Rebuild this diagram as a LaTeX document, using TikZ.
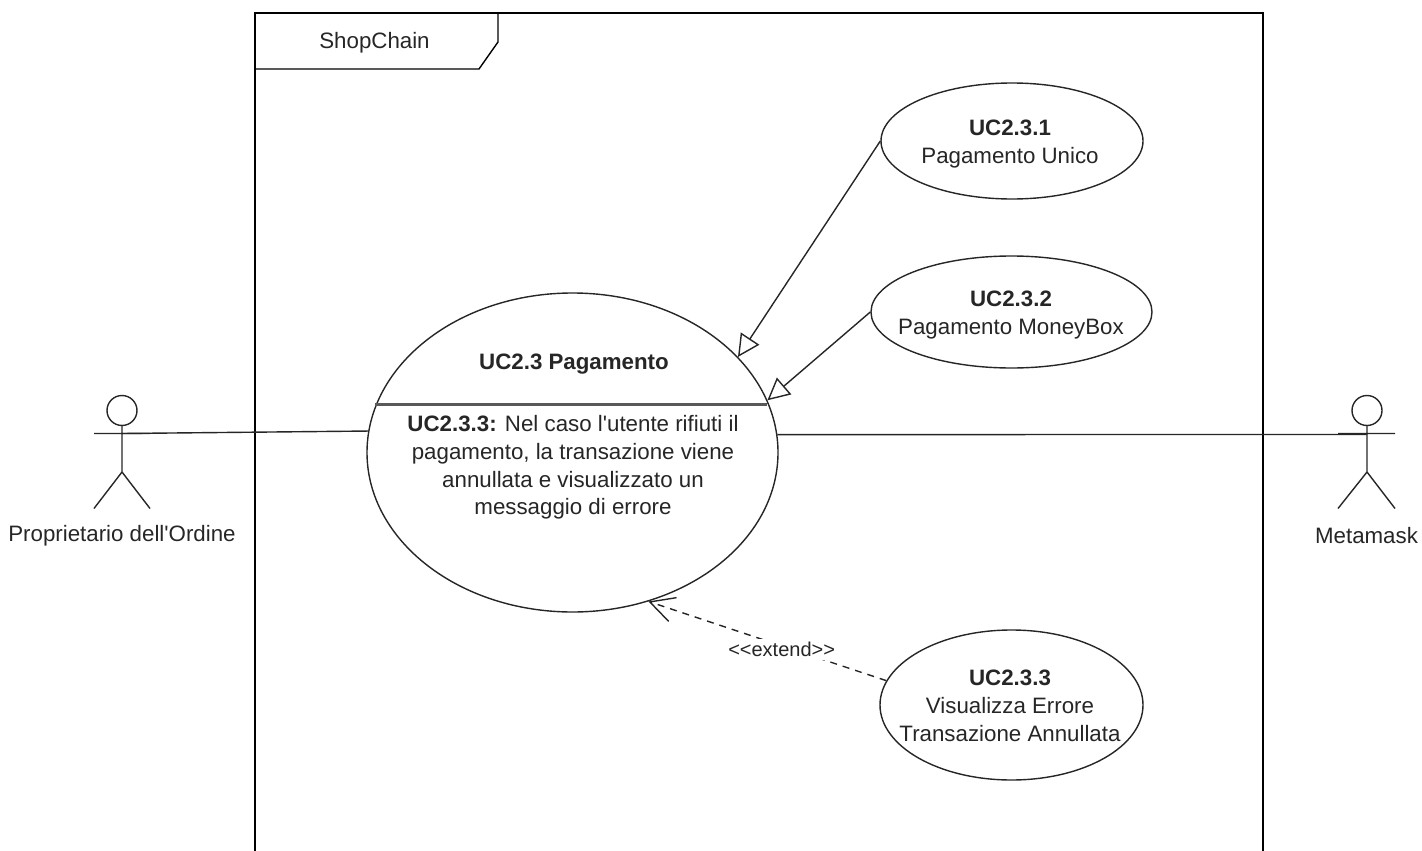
\documentclass[tikz,border=0pt]{standalone}
\usepackage{fontspec}
\usetikzlibrary{shapes.geometric,arrows.meta}
\newfontfamily\diagfont{Liberation Sans}
\tikzset{
  line/.style={draw=black!85,line width=1.4pt},
  uc/.style={ellipse,line,fill=white,inner sep=0pt},
  txt/.style={inner sep=0pt,align=center,text=black!85,font=\diagfont\fontsize{22.3}{27.8}\selectfont},
  gen/.style={line,-{Triangle[open,fill=white,length=22pt,width=22pt]}},
  ext/.style={line,dash pattern=on 7pt off 6pt,-{Straight Barb[length=24pt,width=25pt,line width=1.4pt]}},
  head/.style={circle,line,inner sep=0pt,minimum size=30pt},
}
\begin{document}
\begin{tikzpicture}[x=1pt,y=-1pt]
\useasboundingbox (0,0) rectangle (1422,851);
% frame
\coordinate (fa) at (255,851); \coordinate (fb) at (255,13); \coordinate (fc) at (1263,13); \coordinate (fd) at (1263,851);
\draw[line,draw=black] (fa) -- (fb) -- (fc) -- (fd);
\coordinate (ta) at (498,13); \coordinate (tb) at (498,42); \coordinate (tc) at (479,69); \coordinate (td) at (255,69);
\draw[line,draw=black] (ta) -- (tb) -- (tc) -- (td);
\node[txt] (frametitle) at (374.5,42.5) {ShopChain};
% use cases
\node[uc,minimum width=411pt,minimum height=319pt] (main) at (572.5,452.5) {};
\node[uc,minimum width=262pt,minimum height=116pt] (u1) at (1012,141) {};
\node[uc,minimum width=281pt,minimum height=112pt] (u2) at (1011.5,312) {};
\node[uc,minimum width=263pt,minimum height=150pt] (u3) at (1011.5,705) {};
\node[txt] (u1t) at (1010,144) {\textbf{UC2.3.1}\\Pagamento Unico};
\node[txt] (u2t) at (1011,315) {\textbf{UC2.3.2}\\Pagamento MoneyBox};
\node[txt] (u3t) at (1010,706) {\textbf{UC2.3.3}\\Visualizza Errore\\Transazione Annullata};
\node[txt] (maintitle) at (574,364) {\textbf{UC2.3 Pagamento}};
\node[txt] (mainbody) at (573,467.5) {\textbf{UC2.3.3:} Nel caso l'utente rifiuti il\\pagamento, la transazione viene\\annullata e visualizzato un\\messaggio di errore};
\coordinate (da) at (375,404.5); \coordinate (db) at (767,404.5);
\draw[draw=black!65,line width=2.2pt] (da) -- (db);
% actors
\node[head] (h1) at (122,410.5) {};
\coordinate (b1) at (122,472); \coordinate (a1l) at (94,433.5); \coordinate (a1r) at (150,433.5);
\coordinate (l1l) at (94,508.5); \coordinate (l1r) at (150,508.5);
\draw[line] (h1) -- (b1) -- (l1l) (b1) -- (l1r) (a1l) -- (a1r);
\node[txt] (n1) at (122,536) {Proprietario dell'Ordine};
\node[head] (h2) at (1367,410.5) {};
\coordinate (b2) at (1367,472); \coordinate (a2l) at (1338,433.5); \coordinate (a2r) at (1395,433.5);
\coordinate (l2l) at (1338,508.5); \coordinate (l2r) at (1395,508.5);
\draw[line] (h2) -- (b2) -- (l2l) (b2) -- (l2r) (a2l) -- (a2r);
\node[txt] (n2) at (1366.5,536) {Metamask};
% connectors
\coordinate (c1) at (122,433.5); \coordinate (c2) at (1367,434.5);
\draw[line] (c1) -- (main.174.6);
\draw[line] (main.5) -- (c2);
\draw[gen] (u1.west) -- (main.30.5);
\draw[gen] (u2.west) -- (main.15.3);
\draw[ext] (u3.169) -- node[pos=0.44,yshift=-4pt,fill=white,inner xsep=0pt,inner ysep=3pt,text=black!85,font=\diagfont\fontsize{20}{20}\selectfont] (el) {<<extend>>} (main.-63.5);
\end{tikzpicture}
\end{document}
